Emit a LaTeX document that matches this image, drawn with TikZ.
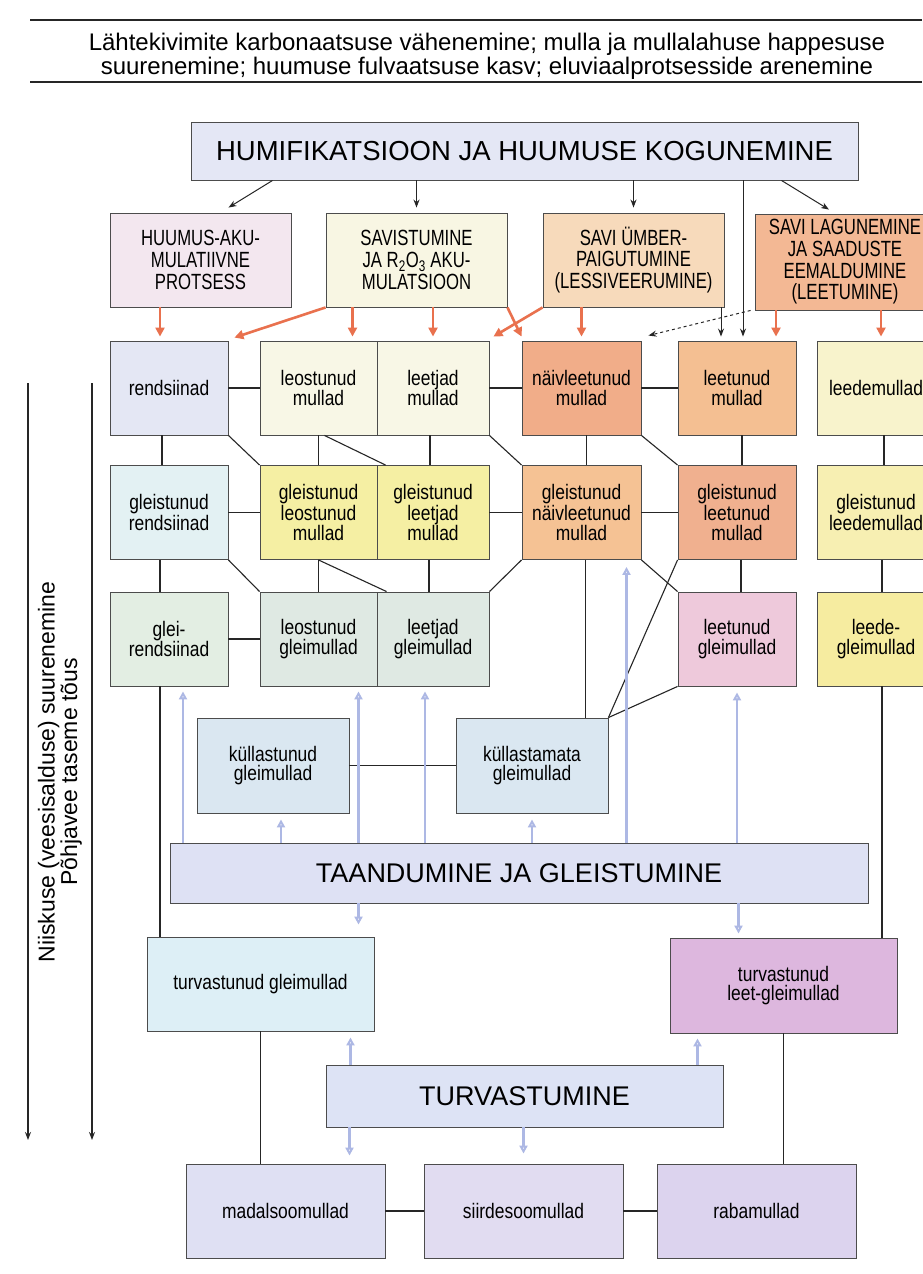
\documentclass[tikz,border=0pt]{standalone}
\usepackage{fontspec}
\setmainfont{Liberation Sans}
\newfontfamily\narrowfont{Liberation Sans}[FakeStretch=0.83]
\newfontfamily\capsnarrow{Liberation Sans}[FakeStretch=0.76]
\usepackage{tikz}
\usetikzlibrary{arrows.meta, calc}
\newcommand\soilfont{\narrowfont\fontsize{21}{19.5}\selectfont}
\newcommand\procfont{\capsnarrow\fontsize{22}{21.7}\selectfont}
\newcommand\bigfont{\fontsize{27}{30}\selectfont}
\newcommand\headfont{\fontsize{24}{24}\selectfont}
\definecolor{humcol}{HTML}{E4E7F5}
\definecolor{huucol}{HTML}{F3E7EF}
\definecolor{savcol}{HTML}{F8F6E3}
\definecolor{umbcol}{HTML}{F7DABB}
\definecolor{lagcol}{HTML}{F3B894}
\definecolor{rendcol}{HTML}{E4E7F4}
\definecolor{creamcol}{HTML}{F8F7E6}
\definecolor{naivcol}{HTML}{F1AD89}
\definecolor{leetcol}{HTML}{F4BF92}
\definecolor{leedcol}{HTML}{F8F3CC}
\definecolor{grendcol}{HTML}{E3F1F3}
\definecolor{gyelcol}{HTML}{F5EFA3}
\definecolor{gnaivcol}{HTML}{F5C294}
\definecolor{gleetcol}{HTML}{F0B08F}
\definecolor{gleedcol}{HTML}{F7EFB2}
\definecolor{greircol}{HTML}{E3EEE3}
\definecolor{gmulcol}{HTML}{DFE9E3}
\definecolor{pinkcol}{HTML}{EEC9DB}
\definecolor{leedgcol}{HTML}{F6ECA0}
\definecolor{kulcol}{HTML}{DAE7F1}
\definecolor{taancol}{HTML}{DEE1F4}
\definecolor{turvgcol}{HTML}{DDEFF6}
\definecolor{turvlcol}{HTML}{DDB7DE}
\definecolor{turvcol}{HTML}{DDE3F5}
\definecolor{madcol}{HTML}{DFE0F3}
\definecolor{siircol}{HTML}{E1DCF1}
\definecolor{rabcol}{HTML}{DCD3EE}
\definecolor{coral}{HTML}{E9714E}
\definecolor{wetblue}{HTML}{ADB8E4}
\tikzset{>={Stealth[length=8pt,width=6pt]}}
\tikzset{box/.style={shape=rectangle, draw=black!70, line width=0.9pt, align=center,
    inner sep=0pt, font=\soilfont, minimum width=118pt, minimum height=94pt}}
\tikzset{proc/.style={box, font=\procfont, minimum width=181pt}}
\tikzset{big/.style={box, font=\bigfont}}
\tikzset{link/.style={-, draw=black!85, line width=1.1pt}}
\tikzset{push/.style={->, draw=black!85, line width=1pt}}
\tikzset{hot/.style={-{Triangle[length=9pt,width=9pt]}, draw=coral, fill=coral, line width=2.6pt}}
\tikzset{wet/.style={-{Triangle[open,length=8pt,width=8pt]}, draw=wetblue, line width=2.2pt}}

\begin{document}
\begin{tikzpicture}[x=1pt, y=-1pt]
  \useasboundingbox[fill=white] (0,0) rectangle (922,1274);
  %%%% header
  \draw[line width=2pt, black!85] (30,20) -- (922,20);
  \draw[line width=2pt, black!85] (30,82) -- (922,82);
  \node[font=\headfont, align=center] (head) at (487,56)
    {Lähtekivimite karbonaatsuse vähenemine; mulla ja mullalahuse happesuse\\
     suurenemine; huumuse fulvaatsuse kasv; eluviaalprotsesside arenemine};
  %%%% processes
  \node[big, fill=humcol, minimum width=667pt, minimum height=58pt,
    font=\fontsize{27.5}{28}\selectfont] (hum) at (524.5,151) {HUMIFIKATSIOON JA HUUMUSE KOGUNEMINE};
  \node[proc, fill=huucol] (huu) at (200.5,260) {HUUMUS-AKU-\\MULATIIVNE\\PROTSESS};
  \node[proc, fill=savcol] (sav) at (416.5,260) {SAVISTUMINE\\JA R\textsubscript{2}O\textsubscript{3} AKU-\\MULATSIOON};
  \node[proc, fill=umbcol] (umb) at (633.5,260) {SAVI ÜMBER-\\PAIGUTUMINE\\(LESSIVEERUMINE)};
  \node[proc, fill=lagcol, minimum width=180pt, minimum height=96pt] (lag) at (845,262)
    {SAVI LAGUNEMINE\\JA SAADUSTE\\EEMALDUMINE\\(LEETUMINE)};
  %%%% row 1
  \node[box, fill=rendcol] (rend) at (169,388) {rendsiinad};
  \node[box, fill=creamcol, minimum width=117pt] (leo) at (318.5,388) {leostunud\\mullad};
  \node[box, fill=creamcol, minimum width=112pt] (let) at (433,388) {leetjad\\mullad};
  \node[box, fill=naivcol, minimum width=119pt] (naiv) at (581.5,388) {näivleetunud\\mullad};
  \node[box, fill=leetcol] (leet) at (737,388) {leetunud\\mullad};
  \node[box, fill=leedcol] (leed) at (876,388) {leedemullad};
  %%%% row 2
  \node[box, fill=grendcol] (grend) at (169,512.5) {gleistunud\\rendsiinad};
  \node[box, fill=gyelcol, minimum width=117pt] (gleo) at (318.5,512.5) {gleistunud\\leostunud\\mullad};
  \node[box, fill=gyelcol, minimum width=112pt] (glet) at (433,512.5) {gleistunud\\leetjad\\mullad};
  \node[box, fill=gnaivcol, minimum width=119pt] (gnaiv) at (581.5,512.5) {gleistunud\\näivleetunud\\mullad};
  \node[box, fill=gleetcol] (gleet) at (737,512.5) {gleistunud\\leetunud\\mullad};
  \node[box, fill=gleedcol] (gleed) at (876,512.5) {gleistunud\\leedemullad};
  %%%% row 3
  \node[box, fill=greircol] (greir) at (169,639) {glei-\\rendsiinad};
  \node[box, fill=gmulcol, minimum width=117pt] (leog) at (318.5,639) {leostunud\\gleimullad};
  \node[box, fill=gmulcol, minimum width=112pt] (letg) at (433,639) {leetjad\\gleimullad};
  \node[box, fill=pinkcol] (leetg) at (737,639) {leetunud\\gleimullad};
  \node[box, fill=leedgcol] (leedg) at (876,639) {leede-\\gleimullad};
  %%%% gley soils
  \node[box, fill=kulcol, minimum width=152pt, minimum height=95pt] (kastu) at (273,765.5) {küllastunud\\gleimullad};
  \node[box, fill=kulcol, minimum width=152pt, minimum height=95pt] (kama) at (532,765.5) {küllastamata\\gleimullad};
  \node[big, fill=taancol, minimum width=698pt, minimum height=60pt] (taan) at (519,873) {TAANDUMINE JA GLEISTUMINE};
  \node[box, fill=turvgcol, minimum width=227pt] (turvg) at (260.5,984) {turvastunud gleimullad};
  \node[box, fill=turvlcol, minimum width=227pt, minimum height=95pt] (turvl) at (783.5,985.5) {turvastunud\\leet-gleimullad};
  \node[big, fill=turvcol, minimum width=397pt, minimum height=62pt] (turv) at (524.5,1096) {TURVASTUMINE};
  \node[box, fill=madcol, minimum width=199pt] (madal) at (285.5,1211) {madalsoomullad};
  \node[box, fill=siircol, minimum width=199pt] (siirde) at (523.5,1211) {siirdesoomullad};
  \node[box, fill=rabcol, minimum width=199pt] (raba) at (756.5,1211) {rabamullad};
  %%%% side text
  \node[rotate=90, align=center, font=\fontsize{23}{20}\selectfont] (moist) at (60,772)
    {Niiskuse (veesisalduse) suurenemine\\Põhjavee taseme tõus};
  \coordinate (m1) at (28,383);
  \coordinate (m1e) at (28,1140);
  \coordinate (m2) at (92,383);
  \coordinate (m2e) at (92,1140);
  \path (m1) edge[push, line width=1.6pt] (m1e);
  \path (m2) edge[push, line width=1.6pt] (m2e);

  %%%% black arrows from the top
  \path ([xshift=82pt]hum.south west) edge[push] ([xshift=28pt,yshift=5pt]huu.north);
  \path (sav.north |- hum.south) edge[push] ([yshift=5pt]sav.north);
  \path (umb.north |- hum.south) edge[push] ([yshift=5pt]umb.north);
  \path ([xshift=-77pt]hum.south east) edge[push] ([xshift=-16pt,yshift=4pt]lag.north);
  \path ([xshift=6pt]leet.north |- hum.south) edge[push] ([xshift=6pt,yshift=4pt]leet.north);
  \path ([xshift=-16pt]leet.north |- umb.south) edge[push] ([xshift=-16pt,yshift=4pt]leet.north);
  \path ([xshift=-4pt]lag.south west) edge[push, dashed] ([xshift=7pt,yshift=5pt]naiv.north east);
  %%%% orange arrows
  \path ([xshift=-9pt]rend.north |- huu.south) edge[hot] ([xshift=-9pt,yshift=4pt]rend.north);
  \path (sav.south west) edge[hot] ([xshift=6pt,yshift=3pt]rend.north east);
  \path ([xshift=34pt]leo.north |- sav.south) edge[hot] ([xshift=34pt,yshift=4pt]leo.north);
  \path (let.north |- sav.south) edge[hot] ([yshift=4pt]let.north);
  \path (sav.south east) edge[hot] ([yshift=4pt]naiv.north west);
  \path (umb.south west) edge[hot] ([xshift=4pt,yshift=4pt]let.north east);
  \path (naiv.north |- umb.south) edge[hot] ([yshift=4pt]naiv.north);
  \path ([xshift=39pt]leet.north |- lag.south) edge[hot] ([xshift=39pt,yshift=4pt]leet.north);
  \path ([xshift=5pt]leed.north |- lag.south) edge[hot] ([xshift=5pt,yshift=4pt]leed.north);

  %%%% links row 1
  \path (rend.east) edge[link] (leo.west);
  \path (let.east) edge[link] (naiv.west);
  \path (naiv.east) edge[link] (leet.west);
  \path ([xshift=-7pt]rend.south) edge[link] ([xshift=-7pt]grend.north);
  \path (rend.south east) edge[link] (gleo.north west);
  \path (leo.south) edge[link] (gleo.north);
  \path ([xshift=6pt]leo.south) edge[link] ([xshift=9pt]glet.north west);
  \path ([xshift=-3pt]let.south) edge[link] ([xshift=-3pt]glet.north);
  \path (let.south east) edge[link] (gnaiv.north west);
  \path ([xshift=5pt]naiv.south) edge[link] ([xshift=5pt]gnaiv.north);
  \path (naiv.south east) edge[link] (gleet.north west);
  \path ([xshift=5pt]leet.south) edge[link] ([xshift=5pt]gleet.north);
  \path ([xshift=8pt]leed.south) edge[link] ([xshift=8pt]gleed.north);
  %%%% links row 2
  \path (grend.east) edge[link] (gleo.west);
  \path (glet.east) edge[link] (gnaiv.west);
  \path (gnaiv.east) edge[link] (gleet.west);
  \path ([xshift=-9pt]grend.south) edge[link] ([xshift=-9pt]greir.north);
  \path (grend.south east) edge[link] (leog.north west);
  \path (gleo.south) edge[link] (leog.north);
  \path (gleo.south) edge[link] ([xshift=10pt]letg.north west);
  \path ([xshift=-4pt]glet.south) edge[link] ([xshift=-4pt]letg.north);
  \path (gnaiv.south west) edge[link] (letg.north east);
  \path (gnaiv.south east) edge[link] (leetg.north west);
  \path ([xshift=4pt]gnaiv.south) edge[link] ([xshift=4pt]gnaiv.south |- kama.north);
  \path (gleet.south west) edge[link] (kama.north east);
  \path ([xshift=4pt]gleet.south) edge[link] ([xshift=4pt]leetg.north);
  \path ([xshift=6pt]gleed.south) edge[link] ([xshift=6pt]leedg.north);
  %%%% links row 3 and below
  \path (greir.east) edge[link] (leog.west);
  \path (leetg.south west) edge[link] (kama.north east);
  \path (kastu.east) edge[link] (kama.west);
  \path ([xshift=-9pt]greir.south) edge[link] ([xshift=-9pt]greir.south |- turvg.north);
  \path ([xshift=6pt]leedg.south) edge[link] ([xshift=6pt]leedg.south |- turvl.north);
  \path (turvg.south) edge[link] (turvg.south |- madal.north);
  \path (turvl.south) edge[link] (turvl.south |- raba.north);
  \path (madal.east) edge[link] (siirde.west);
  \path (siirde.east) edge[link] (raba.west);

  %%%% blue arrows
  \path ([xshift=14pt]greir.south |- taan.north) edge[wet] ([xshift=14pt,yshift=-5pt]greir.south);
  \path ([xshift=8pt]kastu.south |- taan.north) edge[wet] ([xshift=8pt,yshift=-6pt]kastu.south);
  \path ([xshift=40pt]leog.south |- taan.north) edge[wet] ([xshift=40pt,yshift=-5pt]leog.south);
  \path ([xshift=-8pt]letg.south |- taan.north) edge[wet] ([xshift=-8pt,yshift=-5pt]letg.south);
  \path (kama.south |- taan.north) edge[wet] ([yshift=-6pt]kama.south);
  \path ([xshift=45pt]gnaiv.south |- taan.north) edge[wet] ([xshift=45pt,yshift=-7pt]gnaiv.south);
  \path (leetg.south |- taan.north) edge[wet] ([yshift=-6pt]leetg.south);
  \path ([xshift=98pt]turvg.north |- taan.south) edge[wet] ([xshift=98pt,yshift=12pt]turvg.north);
  \path ([xshift=-45pt]turvl.north |- taan.south) edge[wet] ([xshift=-45pt,yshift=4pt]turvl.north);
  \path ([xshift=90pt]turvg.south |- turv.north) edge[wet] ([xshift=90pt,yshift=-6pt]turvg.south);
  \path ([xshift=-86pt]turvl.south |- turv.north) edge[wet] ([xshift=-86pt,yshift=-5pt]turvl.south);
  \path ([xshift=64pt]madal.north |- turv.south) edge[wet] ([xshift=64pt,yshift=8pt]madal.north);
  \path (siirde.north |- turv.south) edge[wet] ([yshift=10pt]siirde.north);
\end{tikzpicture}
\end{document}
